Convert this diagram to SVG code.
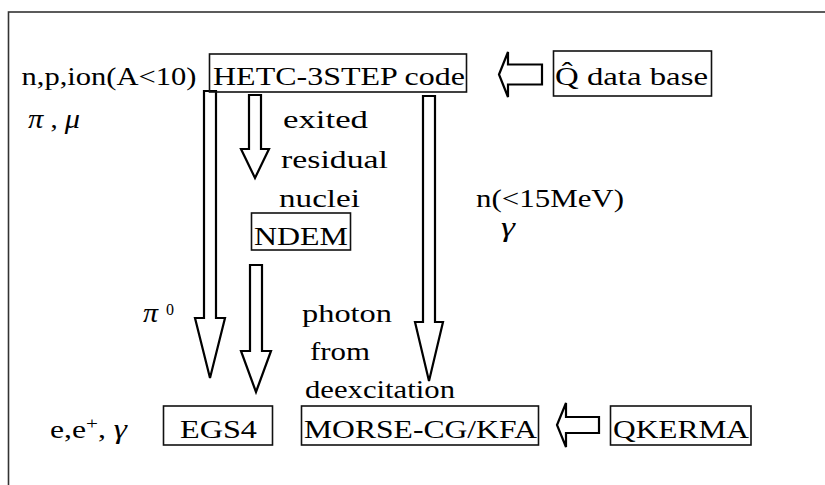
<svg xmlns="http://www.w3.org/2000/svg" width="825" height="485" viewBox="0 0 825 485">
<defs>
<style>
text{font-family:"Liberation Serif","Times New Roman",serif;font-size:25.5px;fill:#000}
.it{font-style:italic}
.gk{font-style:italic;font-size:27px}
.box{fill:none;stroke:#111;stroke-width:1.6}
.arr{fill:#fff;stroke:#000;stroke-width:2.2;stroke-linejoin:miter}
.frame{fill:none;stroke:#333;stroke-width:1.6}
</style>
</defs>
<rect x="0" y="0" width="825" height="485" fill="#fff"/>
<rect class="frame" x="8.5" y="12" width="830" height="490"/>

<g id="connectors">
<polygon class="arr" points="204,91 216,91 216,318 225,318 210,378 195,318 204,318"/>
<polygon class="arr" points="249,95 261,95 261,149 269,149 255,178 241,149 249,149"/>
<polygon class="arr" points="250,265 262,265 262,351 271,351 256,392 241,351 250,351"/>
<polygon class="arr" points="423,96 435,96 435,322 443,322 429,381 415,322 423,322"/>
<polygon class="arr" points="499,74.5 508,52 508,64.5 542,64.5 542,84.5 508,84.5 508,97"/>
<polygon class="arr" points="557,425 566,403 566,417 599,417 599,433 566,433 566,447"/>
</g>

<g id="hetc">
<rect class="box" x="209.5" y="54" width="257" height="38"/>
<text x="213" y="85" textLength="252" lengthAdjust="spacingAndGlyphs">HETC-3STEP code</text>
</g>
<g id="qdb">
<rect class="box" x="553.5" y="51" width="158" height="45"/>
<text x="555" y="85" textLength="153" lengthAdjust="spacingAndGlyphs">Q&#x302; data base</text>
</g>
<g id="ndem">
<rect class="box" x="251.5" y="213" width="99" height="37"/>
<text x="254" y="245" textLength="94" lengthAdjust="spacingAndGlyphs">NDEM</text>
</g>
<g id="egs4">
<rect class="box" x="163.5" y="406" width="109" height="39"/>
<text x="180" y="438" textLength="77" lengthAdjust="spacingAndGlyphs">EGS4</text>
</g>
<g id="morse">
<rect class="box" x="301.5" y="406" width="237" height="39"/>
<text x="304" y="438" textLength="233" lengthAdjust="spacingAndGlyphs">MORSE-CG/KFA</text>
</g>
<g id="qkerma">
<rect class="box" x="610.5" y="406" width="140.5" height="39"/>
<text x="613" y="438" textLength="136" lengthAdjust="spacingAndGlyphs">QKERMA</text>
</g>

<g id="labels">
<text x="21.5" y="85" textLength="175" lengthAdjust="spacingAndGlyphs">n,p,ion(A&lt;10)</text>
<text x="28" y="128" textLength="52" lengthAdjust="spacingAndGlyphs"><tspan class="gk">π</tspan> , <tspan class="gk">μ</tspan></text>
<text x="283" y="128" textLength="85" lengthAdjust="spacingAndGlyphs">exited</text>
<text x="281" y="168" textLength="107" lengthAdjust="spacingAndGlyphs">residual</text>
<text x="279" y="207" textLength="81" lengthAdjust="spacingAndGlyphs">nuclei</text>
<text x="476" y="207" textLength="148" lengthAdjust="spacingAndGlyphs">n(&lt;15MeV)</text>
<text x="501" y="236" class="gk" textLength="14" lengthAdjust="spacingAndGlyphs">γ</text>
<text x="143" y="322" class="gk" textLength="15" lengthAdjust="spacingAndGlyphs">π</text>
<text x="166" y="315" style="font-size:16px">0</text>
<text x="302" y="322" textLength="90" lengthAdjust="spacingAndGlyphs">photon</text>
<text x="310" y="360" textLength="60" lengthAdjust="spacingAndGlyphs">from</text>
<text x="305" y="398" textLength="150" lengthAdjust="spacingAndGlyphs">deexcitation</text>
<text x="50" y="438" textLength="77" lengthAdjust="spacingAndGlyphs">e,e<tspan style="font-size:17px" dy="-9">+</tspan><tspan dy="9">, </tspan><tspan class="gk">γ</tspan></text>
</g>
</svg>
